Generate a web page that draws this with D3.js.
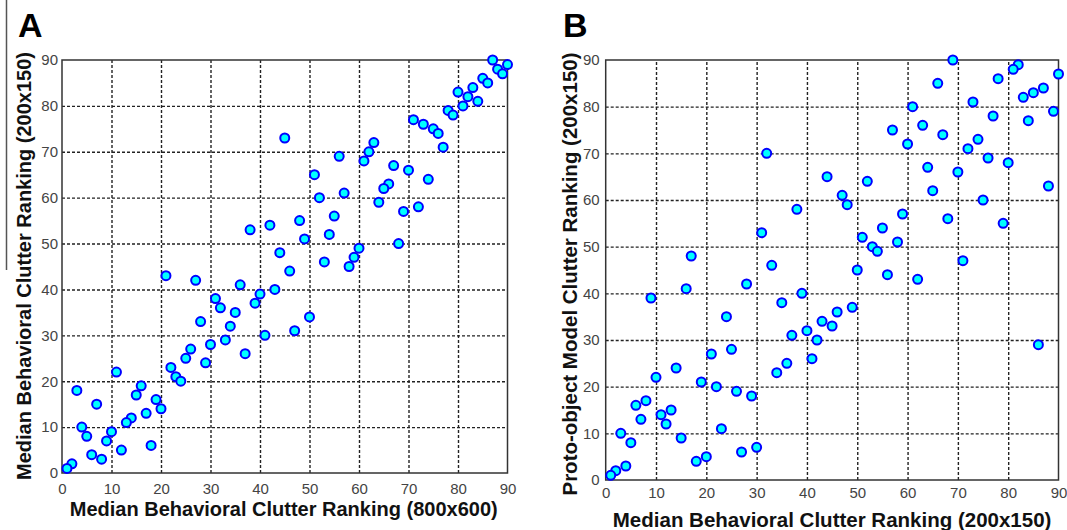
<!DOCTYPE html>
<html>
<head>
<meta charset="utf-8">
<script src="https://cdn.jsdelivr.net/npm/d3@7"></script>
<style>
  body { margin: 0; background: #fff; }
  svg text { font-family: "Liberation Sans", Arial, sans-serif; }
  .lbl text { fill: #444; font-size: 15px; }
  .lbl path, .lbl line { display: none; }
  .grid line { stroke: #222; stroke-width: 1.4; stroke-dasharray: 3,2; }
  .grid path, .grid text { display: none; }
  .title { font-weight: bold; fill: #111; }
  .letter { font-weight: bold; font-size: 34px; fill: #000; }
</style>
</head>
<body>
<svg width="1067" height="530"></svg>
<script>
// ranking ticks (both axes, both panels)
var ticks = [0, 10, 20, 30, 40, 50, 60, 70, 80, 90];

// panel A: behavioral ranking 800x600 (x) vs 200x150 (y)
var aX = [45, 38, 42, 44, 21, 27, 87, 88, 90, 89, 85, 86, 83, 80, 82, 84, 81, 78, 79, 71,
          73, 75, 76, 77, 63, 62, 61, 56, 67, 70, 74, 51, 66, 65, 57, 52, 64, 72, 69, 55,
          48, 54, 49, 68, 60, 59, 53, 58, 46, 50, 47, 36, 43, 40, 39, 31, 32, 35, 28, 34,
          41, 30, 33, 26, 25, 37, 29, 22, 23, 24, 11, 3, 16, 15, 19, 20, 7, 17, 14, 13,
          4, 10, 5, 9, 18, 12, 6, 8, 2, 1];
var aY = [73, 53, 54, 48, 43, 42, 90, 88, 89, 87, 86, 85, 84, 83, 82, 81, 80, 79, 78, 77,
          76, 75, 74, 71, 72, 70, 68, 69, 67, 66, 64, 65, 63, 62, 61, 60, 59, 58, 57, 56,
          55, 52, 51, 50, 49, 47, 46, 45, 44, 34, 31, 41, 40, 39, 37, 38, 36, 35, 33, 32,
          30, 28, 29, 27, 25, 26, 24, 23, 21, 20, 22, 18, 19, 17, 16, 14, 15, 13, 12, 11,
          10, 9, 8, 7, 6, 5, 4, 3, 2, 1];

// panel B: behavioral ranking 200x150 (x) vs proto-object model (y)
var bX = [32, 44, 38, 31, 17, 33, 28, 69, 82, 81, 90, 78, 66, 87, 85, 83, 73, 61, 89, 77,
          84, 63, 57, 67, 74, 60, 72, 76, 80, 64, 70, 52, 88, 65, 47, 48, 75, 59, 68, 79,
          55, 51, 53, 54, 58, 71, 50, 56, 62, 49, 46, 43, 45, 86, 16, 9, 39, 35, 24, 40,
          37, 42, 41, 36, 34, 25, 21, 14, 10, 19, 22, 26, 29, 8, 6, 13, 11, 7, 12, 23,
          3, 5, 15, 30, 27, 20, 18, 4, 2, 1];
var bY = [70, 65, 58, 53, 48, 46, 42, 90, 89, 88, 87, 86, 85, 84, 83, 82, 81, 80, 79, 78,
          77, 76, 75, 74, 73, 72, 71, 69, 68, 67, 66, 64, 63, 62, 61, 59, 60, 57, 56, 55,
          54, 52, 50, 49, 51, 47, 45, 44, 43, 37, 36, 34, 33, 29, 41, 39, 40, 38, 35, 32,
          31, 30, 26, 25, 23, 28, 27, 24, 22, 21, 20, 19, 18, 17, 16, 15, 14, 13, 12, 11,
          10, 8, 9, 7, 6, 5, 4, 3, 2, 1];

var svg = d3.select("svg");

// stray rule at the left edge of the figure
svg.append("line")
    .attr("x1", 6.5).attr("x2", 6.5).attr("y1", 0).attr("y2", 270)
    .attr("stroke", "#555").attr("stroke-width", 1.5);

function panel(p) {
  var x = d3.scaleLinear().domain([0, 90]).range([p.left, p.right]);
  var y = d3.scaleLinear().domain([0, 90]).range([p.bottom, p.top]);
  var inner = ticks.slice(1, -1);

  // dashed grid
  svg.append("g")
      .attr("class", "grid")
      .attr("transform", "translate(0," + p.bottom + ")")
      .call(d3.axisBottom(x).tickValues(inner).tickSize(-(p.bottom - p.top)));
  svg.append("g")
      .attr("class", "grid")
      .attr("transform", "translate(" + p.left + ",0)")
      .call(d3.axisLeft(y).tickValues(inner).tickSize(-(p.right - p.left)));

  // frame
  svg.append("rect")
      .attr("x", p.left).attr("y", p.top)
      .attr("width", p.right - p.left).attr("height", p.bottom - p.top)
      .attr("fill", "none").attr("stroke", "#333").attr("stroke-width", 1.5);

  // tick labels
  svg.append("g")
      .attr("class", "lbl")
      .attr("transform", "translate(0," + p.bottom + ")")
      .call(d3.axisBottom(x).tickValues(ticks).tickSize(0).tickPadding(p.padX));
  svg.append("g")
      .attr("class", "lbl")
      .attr("transform", "translate(" + p.left + ",0)")
      .call(d3.axisLeft(y).tickValues(ticks).tickSize(0).tickPadding(p.padY));

  // points
  svg.append("g")
    .selectAll("circle")
    .data(d3.zip(p.xs, p.ys))
    .join("circle")
      .attr("cx", function(d) { return x(d[0]); })
      .attr("cy", function(d) { return y(d[1]); })
      .attr("r", 4.5)
      .attr("fill", "#00ffff")
      .attr("stroke", "#0000ff")
      .attr("stroke-width", 2);

  // titles
  svg.append("text")
      .attr("class", "title")
      .style("font-size", p.fs + "px")
      .attr("x", (p.left + p.right) / 2 + p.xtDx).attr("y", p.xtY)
      .attr("text-anchor", "middle")
      .text(p.xTitle);
  svg.append("text")
      .attr("class", "title")
      .style("font-size", p.fs + "px")
      .attr("transform", "translate(" + p.ytX + "," + p.ytY + ") rotate(-90)")
      .attr("text-anchor", "middle")
      .text(p.yTitle);
  svg.append("text")
      .attr("class", "letter")
      .attr("x", p.letterX).attr("y", 37)
      .text(p.letter);
}

panel({
  left: 62, right: 507.5, top: 60, bottom: 473,
  xs: aX, ys: aY, padX: 10, padY: 4, fs: 20,
  xTitle: "Median Behavioral Clutter Ranking (800x600)",
  yTitle: "Median Behavioral Clutter Ranking (200x150)",
  xtDx: -1, xtY: 516, ytX: 31, ytY: 266,
  letter: "A", letterX: 18
});

panel({
  left: 605.7, right: 1058.5, top: 60, bottom: 480,
  xs: bX, ys: bY, padX: 7, padY: 6, fs: 20.5,
  xTitle: "Median Behavioral Clutter Ranking (200x150)",
  yTitle: "Proto-object Model Clutter Ranking (200x150)",
  xtDx: 0, xtY: 527, ytX: 577, ytY: 274,
  letter: "B", letterX: 563
});
</script>
</body>
</html>
